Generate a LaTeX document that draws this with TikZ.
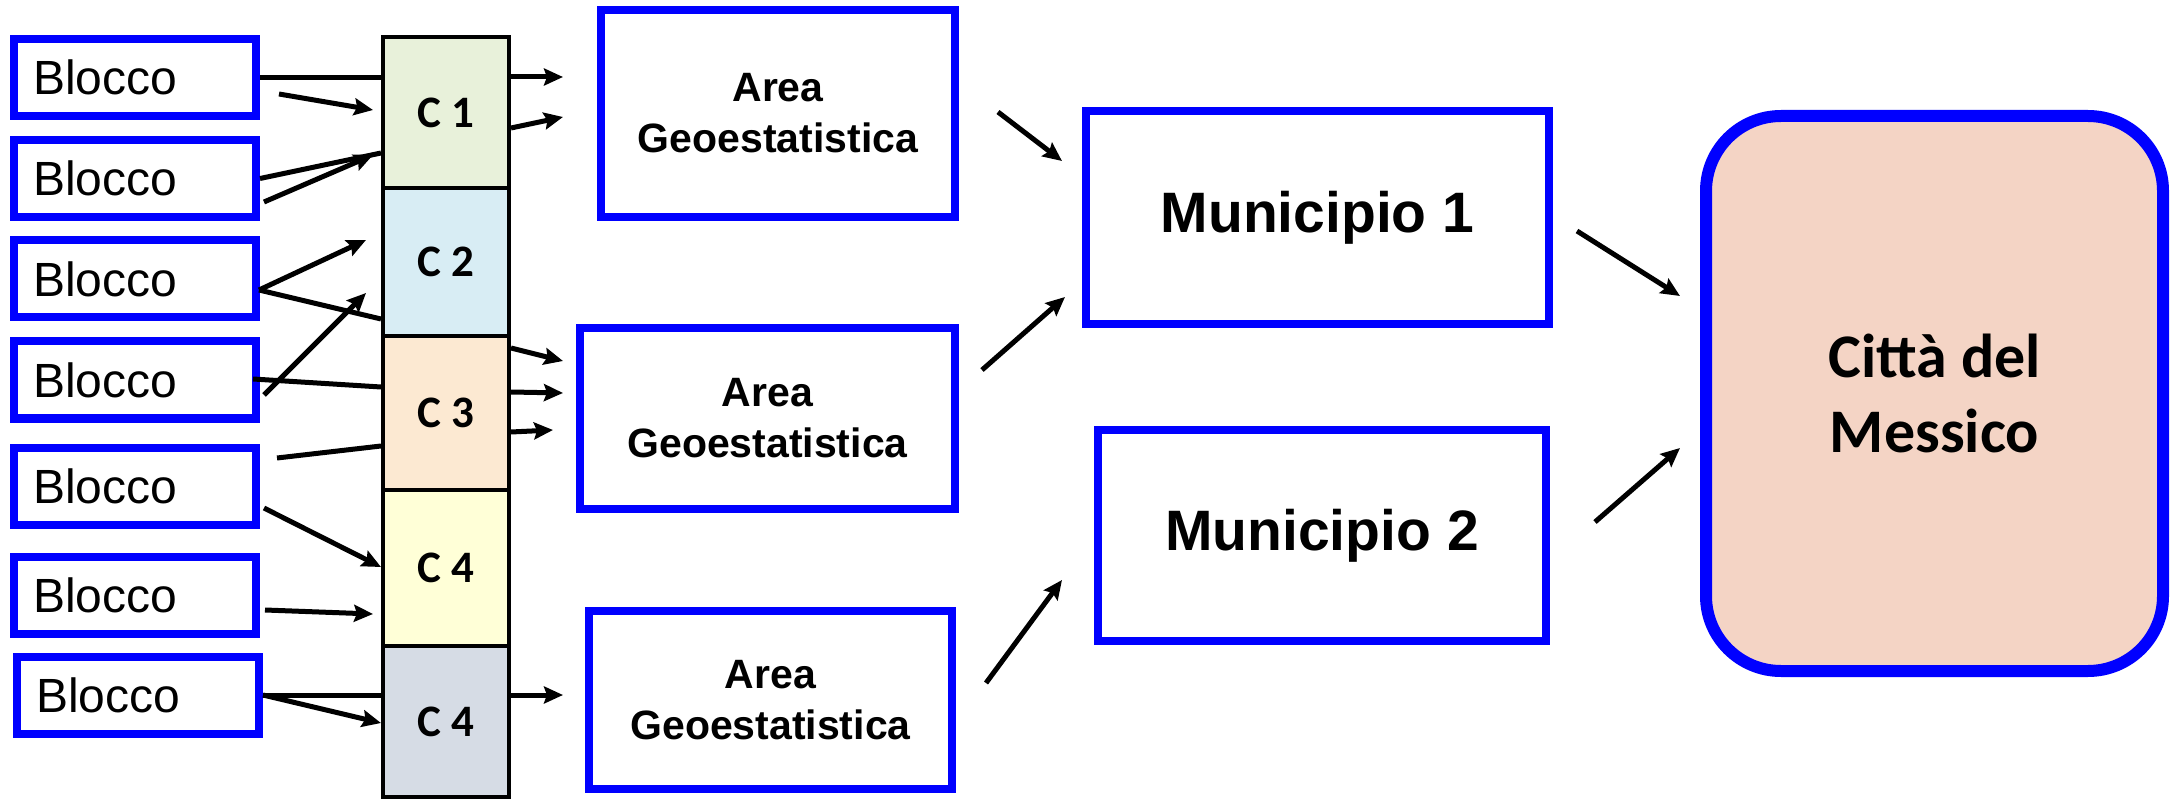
\documentclass[tikz,border=0pt]{standalone}
\usepackage{fontspec}
\setmainfont{Liberation Sans}
\newfontfamily\calfont{Carlito}
\usetikzlibrary{arrows.meta,calc}
\definecolor{cellA}{HTML}{E8F1DA}
\definecolor{cellB}{HTML}{D8EDF4}
\definecolor{cellC}{HTML}{FCE9D2}
\definecolor{cellD}{HTML}{FFFFD7}
\definecolor{cellE}{HTML}{D6DCE5}
\definecolor{cityfill}{HTML}{F4D4C5}
\begin{document}
\begin{tikzpicture}[x=1pt,y=-1pt,
  blocco/.style={draw=blue, line width=8pt, minimum width=242pt, minimum height=77pt,
    text width=204pt, inner xsep=19pt, inner ysep=0pt, align=left,
    font=\fontsize{48}{56}\selectfont},
  areabox/.style={draw=blue, line width=8pt, inner sep=0pt, align=center,
    font=\bfseries\fontsize{41}{51}\selectfont},
  munbox/.style={draw=blue, line width=8pt, inner sep=0pt, align=center,
    font=\bfseries\fontsize{57}{68}\selectfont},
  cell/.style={draw=black, line width=4pt, minimum width=126pt, inner sep=0pt,
    font=\calfont\bfseries\fontsize{45}{50}\selectfont},
  conn/.style={line width=5pt},
  arr/.style={conn, -{Stealth[length=19pt,width=17pt,inset=3pt]}}]
\useasboundingbox (0,0) rectangle (2174,799);

% Blocchi
\node[blocco] (b1) at (135,77.5) {Blocco};
\node[blocco] (b2) at (135,178.5) {Blocco};
\node[blocco] (b3) at (135,279) {Blocco};
\node[blocco] (b4) at (135,380) {Blocco};
\node[blocco] (b5) at (135,486) {Blocco};
\node[blocco] (b6) at (135,595.5) {Blocco};
\node[blocco] (b7) at (138,695) {Blocco};

% Colonna delle C
\node[cell, fill=cellA, minimum height=151pt] (c1) at (446,112.5) {C 1};
\node[cell, fill=cellB, minimum height=148pt] (c2) at (446,262) {C 2};
\node[cell, fill=cellC, minimum height=154pt] (c3) at (446,413) {C 3};
\node[cell, fill=cellD, minimum height=156pt] (c4) at (446,568) {C 4};
\node[cell, fill=cellE, minimum height=151pt] (c5) at (446,721.5) {C 4};

% Aree geostatistiche
\node[areabox, minimum width=354pt, minimum height=207pt] (a1) at (778,113.5) {Area\\Geoestatistica};
\node[areabox, minimum width=375pt, minimum height=181pt] (a2) at (767.5,418.5) {Area\\Geoestatistica};
\node[areabox, minimum width=363pt, minimum height=178pt] (a3) at (770.5,700) {Area\\Geoestatistica};

% Municipi
\node[munbox, minimum width=463pt, minimum height=213pt] (m1) at (1317.5,217.5) {Municipio 1};
\node[munbox, minimum width=448pt, minimum height=211pt] (m2) at (1322,535.5) {Municipio 2};

% Città
\node[draw=blue, line width=12pt, fill=cityfill, rounded corners=75pt,
  minimum width=457pt, minimum height=555pt, inner sep=0pt, align=center,
  font=\calfont\bfseries\fontsize{62}{75}\selectfont] (cm) at (1934.5,393.5) {Città del\\Messico};

% Estremi liberi dei collegamenti
\coordinate (l2s) at (279,94);   \coordinate (l2e) at (373,110);
\coordinate (l4s) at (264,202);  \coordinate (l4e) at (373,155);
\coordinate (l5s) at (259,290);  \coordinate (l5e) at (366,240);
\coordinate (l7s) at (264,395);  \coordinate (l7e) at (366,293);
\coordinate (l8s) at (253,379);
\coordinate (l9s) at (277,458);
\coordinate (l10s) at (264,508);
\coordinate (l11s) at (265,610); \coordinate (l11e) at (373,614);

\coordinate (r1e) at (563,77);
\coordinate (r2s) at (511,128);  \coordinate (r2e) at (563,117);
\coordinate (r3s) at (511,348);  \coordinate (r3e) at (563,361);
\coordinate (r4s) at (511,392);  \coordinate (r4e) at (563,393);
\coordinate (r5s) at (511,432);  \coordinate (r5e) at (553,430);
\coordinate (r6e) at (563,695);

\coordinate (m1s) at (998,112);  \coordinate (m1e) at (1062,161);
\coordinate (m2s) at (982,370);  \coordinate (m2e) at (1065,297);
\coordinate (m3s) at (986,683);  \coordinate (m3e) at (1062,580);
\coordinate (k1s) at (1577,231); \coordinate (k1e) at (1680,296);
\coordinate (k2s) at (1595,522); \coordinate (k2e) at (1680,448);

% Blocchi -> colonna
\draw[conn] (b1.east) -- (b1.east -| c1.west);
\draw[arr] (l2s) -- (l2e);
\draw[conn] (b2.east) -- ($(c1.west)+(0,40.5)$);
\draw[arr] (l4s) -- (l4e);
\draw[arr] (l5s) -- (l5e);
\draw[conn] (l5s) -- ($(c2.west)+(0,57)$);
\draw[arr] (l7s) -- (l7e);
\draw[conn] (l8s) -- ($(c3.west)+(0,-26)$);
\draw[conn] (l9s) -- ($(c3.west)+(0,33)$);
\draw[arr] (l10s) -- ($(c4.west)+(0,-1)$);
\draw[arr] (l11s) -- (l11e);
\draw[conn] (b7.east) -- (b7.east -| c5.west);
\draw[arr] (b7.east) -- ($(c5.west)+(0,1.5)$);

% Colonna -> aree
\draw[arr] (r1e -| c1.east) -- (r1e);
\draw[arr] (r2s) -- (r2e);
\draw[arr] (r3s) -- (r3e);
\draw[arr] (r4s) -- (r4e);
\draw[arr] (r5s) -- (r5e);
\draw[arr] (r6e -| c5.east) -- (r6e);

% Aree -> municipi -> città
\draw[arr] (m1s) -- (m1e);
\draw[arr] (m2s) -- (m2e);
\draw[arr] (m3s) -- (m3e);
\draw[arr] (k1s) -- (k1e);
\draw[arr] (k2s) -- (k2e);
\end{tikzpicture}
\end{document}
